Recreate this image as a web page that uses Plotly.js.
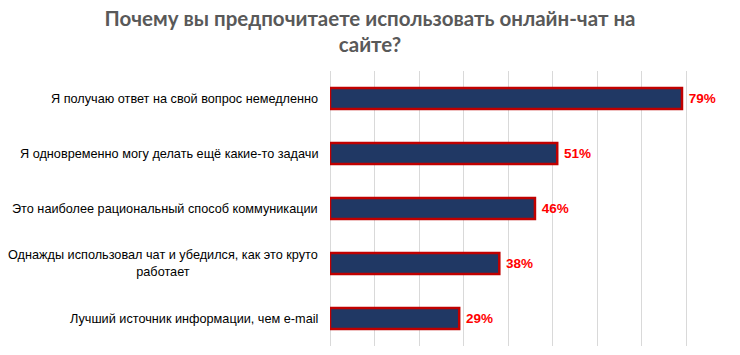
<!DOCTYPE html>
<html><head><meta charset="utf-8">
<script src="https://cdn.plot.ly/plotly-3.0.1.min.js"></script>
<style>html,body{margin:0;padding:0;background:#fff}</style>
</head><body>
<div id="chart" style="width:740px;height:355px"></div>
<script>
const categories = [
  "Я получаю ответ на свой вопрос немедленно",
  "Я одновременно могу делать ещё какие-то задачи",
  "Это наиболее рациональный способ коммуникации",
  "Однажды использовал чат и убедился, как это круто<br>работает",
  "Лучший источник информации, чем e-mail"
];
const values = [0.79, 0.51, 0.46, 0.38, 0.29];
const valueLabels = ["79%", "51%", "46%", "38%", "29%"];
const chartTitle = "Почему вы предпочитаете использовать онлайн-чат на<br>сайте?";

const trace = {
  type: "bar",
  orientation: "h",
  x: values,
  y: categories,
  width: 0.38,
  marker: {color: "#203864", line: {color: "#C00000", width: 2.5}},
  text: valueLabels,
  texttemplate: "\u00a0%{text}",
  textposition: "outside",
  cliponaxis: false,
  textfont: {family: "Liberation Sans, Arial, sans-serif", size: 13.5, color: "#FF0000", weight: "bold"},
  hoverinfo: "skip"
};

const annotations = categories.map((c) => ({
  xref: "paper", yref: "y", x: 0, y: c, xanchor: "right", xshift: -10,
  text: c, showarrow: false, align: "center",
  font: {family: "Liberation Sans, Arial, sans-serif", size: 12.7, color: "#000000"}
}));

const layout = {
  width: 740, height: 355,
  margin: {l: 330, r: 9, t: 71, b: 9},
  paper_bgcolor: "#fff", plot_bgcolor: "#fff",
  showlegend: false,
  title: {
    text: chartTitle,
    xref: "container", x: 0.5, xanchor: "center",
    yref: "container", y: 0.928, yanchor: "middle",
    font: {family: "Lato, sans-serif", size: 20.5, color: "#595959", weight: "bold"}
  },
  xaxis: {
    range: [0, 0.9], dtick: 0.1, tick0: 0,
    showticklabels: false, showgrid: true, gridcolor: "#D9D9D9", gridwidth: 1,
    zeroline: true, zerolinecolor: "#D9D9D9", zerolinewidth: 1, showline: false, fixedrange: true
  },
  yaxis: {
    autorange: "reversed", showticklabels: false, showgrid: false,
    showline: false, zeroline: false, ticks: "", fixedrange: true
  },
  annotations: annotations
};

Plotly.newPlot("chart", [trace], layout, {displayModeBar: false, staticPlot: true});
</script>
</body></html>
